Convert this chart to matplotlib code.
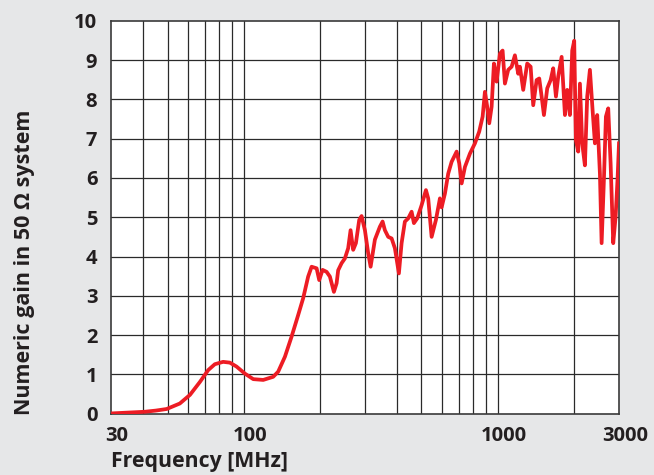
import matplotlib
matplotlib.use("Agg")
import matplotlib.pyplot as plt
import matplotlib.transforms as mtransforms

# Frequency (MHz) and numeric gain
freq_mhz = [30.5, 35.5, 40.7, 45, 49.6, 55.9, 61.3, 67.1, 72.3, 76.8,
            82.8, 88.0, 93.5, 100.9, 108.8, 119.1, 130.4, 136.4, 145.0, 154.0,
            163.5, 171.1, 179.0, 184.7, 193.3, 197.9, 204.0, 211.6, 218.0, 226.1,
            231.7, 235.0, 242.4, 249.7, 257.3, 263.0, 269.3, 276.0, 284.4, 290.6,
            299.5, 308.6, 315.4, 327.9, 343.1, 351.6, 359.0, 370.0, 381.6, 393.1,
            407.6, 417.7, 430.4, 443.5, 457.4, 467.1, 481.3, 501.0, 520.9, 531.7,
            548.5, 570.2, 591.4, 600.5, 618.7, 637.5, 657.5, 688.1, 704.5, 720.0,
            741.9, 776.3, 812.3, 844.5, 870.9, 889.2, 908.0, 924.7, 944.9, 964.9,
            988.8, 1018.9, 1044.0, 1066.1, 1098.5, 1132.9, 1167.1, 1202.7, 1221.5, 1258.6,
            1305.0, 1345.9, 1378.1, 1421.2, 1455.3, 1487.2, 1518.6, 1564.8, 1613.8, 1652.1,
            1693.3, 1728.8, 1783.0, 1837.3, 1875.8, 1922.0, 1962.6, 1998.3, 2029.4, 2072.5,
            2104.5, 2148.4, 2202.0, 2248.2, 2304.2, 2361.1, 2411.2, 2461.8, 2523.0, 2562.3,
            2616.0, 2664.0, 2720.4, 2780.0, 2846.6, 2909.0, 2962.1, 3000]
gain = [0.01, 0.03, 0.05, 0.08, 0.12, 0.26, 0.48, 0.81, 1.11, 1.26,
        1.32, 1.30, 1.20, 1.02, 0.88, 0.86, 0.94, 1.07, 1.45, 1.96,
        2.51, 2.94, 3.49, 3.74, 3.70, 3.40, 3.66, 3.61, 3.49, 3.10,
        3.32, 3.65, 3.83, 3.95, 4.21, 4.67, 4.17, 4.34, 4.93, 5.03,
        4.67, 4.08, 3.74, 4.43, 4.76, 4.89, 4.67, 4.50, 4.46, 4.21,
        3.57, 4.34, 4.89, 4.97, 5.14, 4.85, 4.97, 5.31, 5.69, 5.48,
        4.50, 4.93, 5.48, 5.25, 5.60, 6.11, 6.41, 6.67, 6.37, 5.86,
        6.28, 6.62, 6.88, 7.18, 7.56, 8.19, 7.81, 7.39, 7.81, 8.91,
        8.45, 9.16, 9.24, 8.40, 8.75, 8.83, 9.12, 8.65, 8.83, 8.24,
        8.91, 8.83, 7.85, 8.49, 8.53, 8.07, 7.60, 8.28, 8.49, 8.79,
        8.07, 8.58, 9.08, 7.60, 8.24, 7.60, 9.24, 9.49, 6.96, 6.67,
        8.40, 6.88, 6.32, 8.07, 8.75, 7.72, 6.88, 7.60, 6.11, 4.34,
        5.95, 7.56, 7.77, 6.37, 4.34, 5.01, 6.00, 6.88]

xticks = [30, 100, 1000, 3000]
yticks = list(range(0, 11))

plt.rcParams['font.family'] = ['Open Sans', 'DejaVu Sans']
bg = '#e6e7e8'
txt = '#231f20'

fig = plt.figure(figsize=(6.54, 4.75), dpi=100, facecolor=bg)
ax = fig.add_axes([0.170, 0.129, 0.7765, 0.8274])
ax.set_facecolor('white')

ax.plot(freq_mhz, gain, color='#ed1c24', lw=2.7, solid_joinstyle='round', zorder=3)

ax.set_xscale('log')
ax.set_xlim(30, 3000)
ax.set_ylim(0, 10)

# grid: every decade step in x, every unit in y
minor = [v * d for d in (10, 100, 1000) for v in range(1, 10) if 30 < v * d < 3000]
for v in minor:
    ax.axvline(v, color='#2a2a2a', lw=0.9, zorder=1)
for v in yticks[1:-1]:
    ax.axhline(v, color='#2a2a2a', lw=0.9, zorder=1)
for s in ax.spines.values():
    s.set_color('#3a3a3a')
    s.set_linewidth(1.2)

ax.set_xticks(xticks)
ax.set_xticklabels([str(t) for t in xticks])
ax.xaxis.set_minor_locator(matplotlib.ticker.NullLocator())
ax.set_yticks(yticks)
ax.tick_params(axis='both', length=0, labelsize=14.5, colors=txt)
ax.tick_params(axis='y', pad=10)
ax.tick_params(axis='x', pad=9)
for lab in ax.get_xticklabels() + ax.get_yticklabels():
    lab.set_fontweight('bold')
off = mtransforms.ScaledTranslation(6 / 100, 0, fig.dpi_scale_trans)
for lab in ax.get_xticklabels():
    lab.set_transform(lab.get_transform() + off)

fig.text(111 / 654, 1 - 462 / 475, 'Frequency [MHz]', ha='left', va='center',
         fontsize=15.3, fontweight='bold', color=txt)
fig.text(25 / 654, 1 - 262 / 475, 'Numeric gain in 50 \u03a9 system', rotation=90,
         ha='center', va='center', fontsize=15.5, fontweight='bold', color=txt)

fig.savefig('out.png', dpi=100, facecolor=bg)
